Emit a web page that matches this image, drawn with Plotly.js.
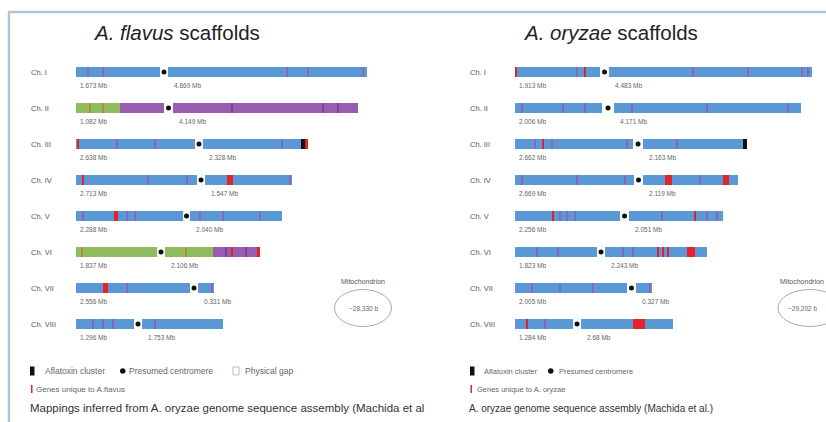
<!DOCTYPE html>
<html><head><meta charset="utf-8">
<script src="https://cdn.plot.ly/plotly-3.0.1.min.js"></script>
<style>body{margin:0;background:#fff}#c{width:826px;height:422px}</style>
</head><body><div id="c"></div>
<script>
// ---------- DATA (drawn lengths in display units) ----------
const chromosomes = ["Ch. I","Ch. II","Ch. III","Ch. IV","Ch. V","Ch. VI","Ch. VII","Ch. VIII"];

// A. flavus
const flavusArm1End   = [84, 88, 119, 121, 107, 81, 114, 58];
const flavusArm2Start = [92, 97, 127, 129, 114, 89, 122, 66];
const flavusArm2End   = [291, 282, 232, 216, 206, 184, 138, 147];
const flavusSpans = [
  [],
  [[0,44,"green"],[44,282,"purple"]],
  [[225,229,"black"],[229,232,"red"]],
  [[151,157,"red"]],
  [[38,42,"red"]],
  [[0,137,"green"],[137,184,"purple"],[181,184,"red"]],
  [[27,32,"red"]],
  []
];
const flavusStripes = [
  [[12,"p"],[27,"p"],[211,"p"],[232,"p"],[287,"p"]],
  [[14,"g"],[27,"g"],[156,"d"],[247,"d"],[262,"d"]],
  [[2,"r"],[41,"p"],[79,"p"],[206,"p"]],
  [[7,"r"],[72,"p"],[111,"p"],[214,"p"]],
  [[7,"p"],[51,"p"],[59,"p"],[124,"p"],[147,"p"],[184,"p"]],
  [[6,"g"],[110,"g"],[150,"d"],[156,"r"],[170,"d"]],
  [[51,"p"],[136,"p"]],
  [[17,"p"],[27,"p"],[37,"p"],[79,"p"]]
];
const flavusArmLabels = [
  ["1.673 Mb","4.869 Mb"],["1.082 Mb","4.149 Mb"],["2.638 Mb","2.328 Mb"],["2.713 Mb","1.547 Mb"],
  ["2.288 Mb","2.040 Mb"],["1.837 Mb","2.106 Mb"],["2.556 Mb","0.331 Mb"],["1.296 Mb","1.753 Mb"]
];
const flavusMito = "~28,330 b";

// A. oryzae
const oryzaeArm1End   = [85, 87, 118, 119, 105, 82, 112, 58];
const oryzaeArm2Start = [94, 99, 128, 128, 114, 90, 121, 66];
const oryzaeArm2End   = [297, 286, 232, 223, 208, 192, 137, 158];
const oryzaeSpans = [
  [],
  [],
  [[228,232,"black"]],
  [[150,157,"red"],[208,214,"red"]],
  [],
  [[172,180,"red"]],
  [],
  [[118,130,"red"]]
];
const oryzaeStripes = [
  [[1,"r"],[62,"p"],[70,"r"],[178,"p"],[233,"p"],[287,"p"],[293,"p"]],
  [[7,"p"],[48,"p"],[70,"p"],[117,"p"],[192,"p"],[273,"p"]],
  [[20,"p"],[28,"r"],[37,"p"],[112,"p"],[162,"p"]],
  [[7,"p"],[62,"p"],[110,"p"],[185,"p"]],
  [[38,"r"],[45,"p"],[52,"p"],[60,"p"],[147,"p"],[180,"r"],[192,"p"],[202,"p"]],
  [[22,"p"],[43,"p"],[108,"p"],[118,"p"],[143,"r"],[148,"r"],[153,"r"]],
  [[17,"p"],[45,"p"],[78,"p"],[135,"p"]],
  [[12,"r"],[30,"p"]]
];
const oryzaeArmLabels = [
  ["1.913 Mb","4.483 Mb"],["2.006 Mb","4.171 Mb"],["2.662 Mb","2.163 Mb"],["2.669 Mb","2.119 Mb"],
  ["2.256 Mb","2.051 Mb"],["1.823 Mb","2.243 Mb"],["2.005 Mb","0.327 Mb"],["1.284 Mb","2.68 Mb"]
];
const oryzaeMito = "~29,202 b";

// ---------- STYLE ----------
const W = 826, H = 422;
const FONT = "Liberation Sans, Arial, sans-serif";
const colors = {blue:"#5a99d6", green:"#8fbc5c", purple:"#9a5caf", black:"#111111", red:"#e3232c"};
const stripeColors = {p:"#8b68b4", r:"#e3232c", g:"#b08c4a", d:"#7a4596"};
const halfH = 5/36;

const shapes = [], annotations = [], traces = [];
const px = (x) => x / W;
const py = (y) => 1 - y / H;

function rect(xref, x0, x1, y, color) {
  shapes.push({type:"rect", layer:"below", xref:xref, yref:"y", x0:x0, x1:x1,
    y0:y - halfH, y1:y + halfH, fillcolor:color, line:{width:0}});
}

function drawSpecies(xref, a1, s2, e2, spans, stripes, armLabels, labelX) {
  const cx = [], cy = [];
  chromosomes.forEach((name, i) => {
    rect(xref, 0, a1[i], i, colors.blue);
    rect(xref, s2[i], e2[i], i, colors.blue);
    spans[i].forEach(([a, b, c]) => {
      const l = Math.max(a, 0), r = Math.min(b, a1[i]);
      if (r > l) rect(xref, l, r, i, colors[c]);
      const l2 = Math.max(a, s2[i]), r2 = Math.min(b, e2[i]);
      if (r2 > l2) rect(xref, l2, r2, i, colors[c]);
    });
    stripes[i].forEach(([p, t]) => rect(xref, p - 1, p + 1, i, stripeColors[t]));
    cx.push((a1[i] + s2[i]) / 2); cy.push(i);
    annotations.push({xref:xref, yref:"y", x:2, y:i + 0.37, text:armLabels[i][0], showarrow:false,
      xanchor:"left", yanchor:"middle", font:{family:FONT, size:6.5, color:"#666"}});
    annotations.push({xref:xref, yref:"y", x:s2[i] + 4, y:i + 0.37, text:armLabels[i][1], showarrow:false,
      xanchor:"left", yanchor:"middle", font:{family:FONT, size:6.5, color:"#666"}});
    annotations.push({xref:"paper", yref:"y", x:px(labelX), y:i, text:name, showarrow:false,
      xanchor:"left", yanchor:"middle", font:{family:FONT, size:7.5, color:"#555"}});
  });
  traces.push({type:"scatter", mode:"markers", xaxis:xref, yaxis:"y", x:cx, y:cy,
    marker:{color:"#111", size:5, symbol:"circle"}, hoverinfo:"skip", showlegend:false, cliponaxis:false});
}

drawSpecies("x", flavusArm1End, flavusArm2Start, flavusArm2End, flavusSpans, flavusStripes, flavusArmLabels, 29);
drawSpecies("x2", oryzaeArm1End, oryzaeArm2Start, oryzaeArm2End, oryzaeSpans, oryzaeStripes, oryzaeArmLabels, 468);

function ptext(x, y, t, size, color, anchor) {
  annotations.push({xref:"paper", yref:"paper", x:px(x), y:py(y), text:t, showarrow:false,
    xanchor:anchor || "left", yanchor:"middle", font:{family:FONT, size:size, color:color}});
}
function prect(x0, y0, x1, y1, fill, line) {
  shapes.push({type:"rect", xref:"paper", yref:"paper", x0:px(x0), x1:px(x1), y0:py(y1), y1:py(y0),
    fillcolor:fill, line: line || {width:0}});
}

// titles
ptext(176, 33, "<i>A. flavus</i> scaffolds", 20.5, "#222", "center");
ptext(610, 33, "<i>A. oryzae</i> scaffolds", 20.5, "#222", "center");

// frame
shapes.push({type:"line", xref:"paper", yref:"paper", x0:px(8), x1:1, y0:py(12), y1:py(12), line:{color:"#b3c5d3", width:2.5}});
shapes.push({type:"line", xref:"paper", yref:"paper", x0:px(9), x1:px(9), y0:py(12), y1:0, line:{color:"#b3c5d3", width:2.5}});

// mitochondria
function mito(cx, cy, w, h, label, labelX, anchor) {
  shapes.push({type:"circle", xref:"paper", yref:"paper", x0:px(cx - w/2), x1:px(cx + w/2),
    y0:py(cy + h/2), y1:py(cy - h/2), line:{color:"#aaa", width:1}, fillcolor:"rgba(0,0,0,0)"});
  ptext(labelX, cy - 27, "Mitochondrion", 7, "#555", anchor);
  ptext(anchor === "left" ? cx - w/2 + 8 : cx, cy, label, 6.5, "#666", anchor);
}
mito(363, 308, 57, 37, flavusMito, 363, "center");
mito(810, 308, 64, 37, oryzaeMito, 778, "left");

// legends
const LY1 = 371, LY2 = 389, LY3 = 408;
prect(30, LY1 - 4.5, 34.5, LY1 + 4.5, "#111");
ptext(43, LY1, "Aflatoxin cluster", 8.5, "#666");
shapes.push({type:"circle", xref:"paper", yref:"paper", x0:px(120), x1:px(125.5), y0:py(LY1 + 2.7), y1:py(LY1 - 2.7), fillcolor:"#111", line:{width:0}});
ptext(127, LY1, "Presumed centromere", 8.5, "#666");
prect(233, LY1 - 4, 239, LY1 + 4, "#fff", {color:"#bbb", width:1});
ptext(243, LY1, "Physical gap", 8.5, "#666");
prect(31, LY2 - 4, 32.5, LY2 + 4, "#e3232c");
ptext(34, LY2, "Genes unique to A.flavus", 8, "#666");
ptext(28, LY3, "Mappings inferred from A. oryzae genome sequence assembly (Machida et al", 11.5, "#333");

prect(470, LY1 - 4.5, 474.5, LY1 + 4.5, "#111");
ptext(482, LY1, "Aflatoxin cluster", 7.5, "#666");
shapes.push({type:"circle", xref:"paper", yref:"paper", x0:px(548), x1:px(553.5), y0:py(LY1 + 2.7), y1:py(LY1 - 2.7), fillcolor:"#111", line:{width:0}});
ptext(557, LY1, "Presumed centromere", 7.5, "#666");
prect(470.5, LY2 - 4, 472, LY2 + 4, "#e3232c");
ptext(475, LY2, "Genes unique to A. oryzae", 7.5, "#666");
ptext(467, LY3, "A. oryzae genome sequence assembly (Machida et al.)", 10, "#333");

const layout = {
  width: W, height: H, margin:{l:0, r:0, t:0, b:0},
  paper_bgcolor:"#fff", plot_bgcolor:"rgba(0,0,0,0)", showlegend:false,
  xaxis:{domain:[76/W, 420/W], range:[0, 344], visible:false, fixedrange:true},
  xaxis2:{domain:[515/W, 1], range:[0, 311], visible:false, fixedrange:true, anchor:"y"},
  yaxis:{domain:[0, 1], range:[H/36 - 2, -2], visible:false, fixedrange:true},
  shapes: shapes, annotations: annotations
};
Plotly.newPlot("c", traces, layout, {displayModeBar:false, staticPlot:true});
</script>
</body></html>
